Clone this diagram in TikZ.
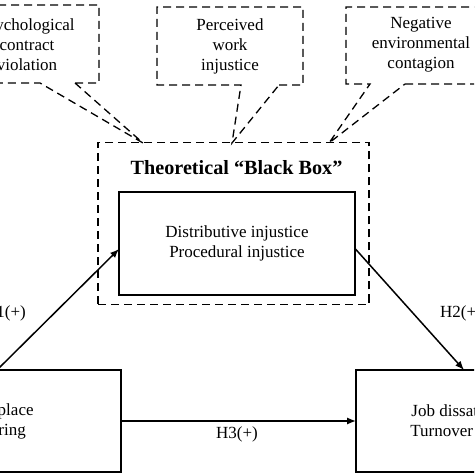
\documentclass[tikz,border=0pt]{standalone}
\usepackage{fontspec}
\setmainfont{Liberation Serif}
\usetikzlibrary{arrows.meta}
\tikzset{
	txt/.style={font=\fontsize{8.5}{10}\selectfont, align=center},
	solidbox/.style={draw, line width=0.75pt, inner sep=0pt, outer sep=0pt, txt},
	dashbox/.style={draw, line width=0.65pt, dash pattern=on 4pt off 2.5pt, inner sep=0pt, outer sep=0pt},
	dline/.style={line width=0.65pt, dash pattern=on 4pt off 2.5pt, line join=miter},
	arr/.style={line width=0.75pt, -{Latex[length=4.5pt,width=3.6pt]}}
}
\begin{document}
\begin{tikzpicture}[x=0.5pt,y=-0.5pt]
\clip (0,0) rectangle (474,474);      % 474x474 px

\node[dashbox, minimum width=135.5pt, minimum height=81pt] (bbox) at (233.5,223.5) {};
\node[font=\fontsize{10.1}{12}\selectfont\bfseries] (title) at (236.5,168) {Theoretical “Black Box”};
\node[solidbox, minimum width=118pt, minimum height=51.5pt] (inj) at (237,243.5)
	{Distributive injustice\\Procedural injustice};       % mediators

\coordinate (t1) at (143,143);
\coordinate (t2) at (232,143);
\coordinate (t3) at (329,143);

\node[txt] (psy) at (27,45) {Psychological\\contract\\violation};
\node[txt] (per) at (230,46) {Perceived\\work\\injustice};
\node[txt] (neg) at (421,45) {Negative\\environmental\\contagion};

\draw[dline] (75,83) -- (99,83) -- (99,5) -- (-45,5) -- (-45,83) -- (40,83) -- (t1) -- cycle;
\draw[dline] (279,85) -- (303,85) -- (303,7) -- (157,7) -- (157,85) -- (241,85) -- (t2) -- cycle;
\draw[dline] (405,84) -- (496,84) -- (496,7) -- (346,7) -- (346,84) -- (370,84) -- (t3) -- cycle;   % callouts

\node[solidbox, minimum width=124pt, minimum height=51pt] (wp) at (-3,421) {Workplace\\favoring};
\node[solidbox, minimum width=118pt, minimum height=51pt] (job) at (474,421)
	{Job dissatisfaction\\Turnover intention};

\draw[arr] (wp.north) -- ([yshift=-2.75pt]inj.west);
\draw[arr] ([yshift=-2.5pt]inj.east) -- ([xshift=-5pt]job.north);
\draw[arr] (wp.east) -- (job.west);            % paths

\node[txt] (h1) at (5,313) {H1(+)};
\node[txt] (h2) at (461,313) {H2(+)};
\node[txt] (h3) at (237,434) {H3(+)};
\end{tikzpicture}
\end{document}
